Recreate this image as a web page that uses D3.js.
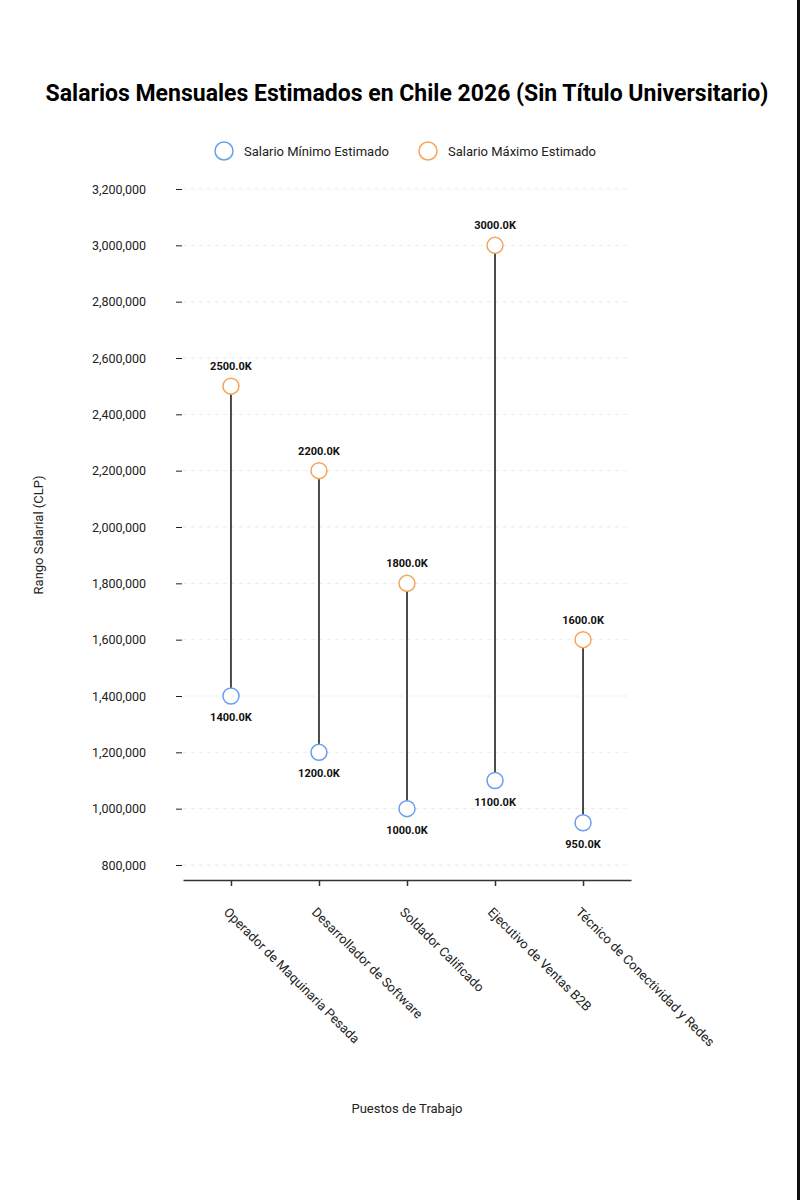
<!DOCTYPE html>
<html>
<head>
<meta charset="utf-8">
<script src="https://cdn.jsdelivr.net/npm/d3@7"></script>
<style>
  body { margin: 0; background: #fff; }
  svg { display: block; font-family: Roboto, "Noto Sans", sans-serif; }
</style>
</head>
<body>
<div id="chart"></div>
<script>
// Chart data
var jobs = [
    "Operador de Maquinaria Pesada",
    "Desarrollador de Software",
    "Soldador Calificado",
    "Ejecutivo de Ventas B2B",
    "Técnico de Conectividad y Redes"
];
var minSalary = [1400000, 1200000, 1000000, 1100000, 950000];
var maxSalary = [2500000, 2200000, 1800000, 3000000, 1600000];
var yTicks = [800000, 1000000, 1200000, 1400000, 1600000, 1800000, 2000000, 2200000, 2400000, 2600000, 2800000, 3000000, 3200000];

// Size of svg
var svgWidth = 800;
var svgHeight = 1200;

var minColor = "#6a9cf0";
var maxColor = "#f5a45a";

var svg = d3.select("#chart")
    .append("svg")
    .attr("width", svgWidth)
    .attr("height", svgHeight);

// Right edge border line
svg.append("rect")
    .attr("x", 797)
    .attr("y", 0)
    .attr("width", 3)
    .attr("height", svgHeight)
    .attr("fill", "#111");

// Scales
var xScale = d3.scalePoint()
    .domain(jobs)
    .range([183, 631])
    .padding(0.545);

var yScale = d3.scaleLinear()
    .domain([800000, 3200000])
    .range([865, 189]);

var axisY = 880;

// Title
svg.append("text")
    .attr("x", 407)
    .attr("y", 101)
    .attr("text-anchor", "middle")
    .attr("font-size", "23px")
    .attr("font-weight", "bold")
    .attr("fill", "#000")
    .text("Salarios Mensuales Estimados en Chile 2026 (Sin Título Universitario)");

// Legend
var legendItems = [
    {label: "Salario Mínimo Estimado", color: minColor, x: 224},
    {label: "Salario Máximo Estimado", color: maxColor, x: 428}
];
legendItems.forEach(item => {
    svg.append("circle")
        .attr("cx", item.x)
        .attr("cy", 151)
        .attr("r", 9)
        .attr("fill", "#fff")
        .attr("stroke", item.color)
        .attr("stroke-width", 1.5);
    svg.append("text")
        .attr("x", item.x + 20)
        .attr("y", 156)
        .attr("font-size", "13px")
        .attr("fill", "#222")
        .text(item.label);
});

// Gridlines
svg.append("g")
    .selectAll("line")
    .data(yTicks)
    .enter()
    .append("line")
    .attr("x1", 183)
    .attr("x2", 631)
    .attr("y1", d => yScale(d))
    .attr("y2", d => yScale(d))
    .attr("stroke", "#ececec")
    .attr("stroke-dasharray", "4,4");

// Y axis (ticks + labels, no domain line)
var leftAxis = d3.axisLeft(yScale)
    .tickValues(yTicks)
    .tickSize(6)
    .tickPadding(30)
    .tickFormat(d3.format(","));

var yAxisG = svg.append("g")
    .attr("transform", "translate(182, 0)")
    .call(leftAxis);
yAxisG.select(".domain").remove();
yAxisG.selectAll("text")
    .attr("font-size", "12.5px")
    .attr("font-family", "Roboto, sans-serif")
    .attr("fill", "#222");
yAxisG.selectAll("line").attr("stroke", "#222");

// X axis
var bottomAxis = d3.axisBottom(xScale)
    .tickSize(6)
    .tickSizeOuter(0)
    .tickFormat("");

var xAxisG = svg.append("g")
    .attr("transform", `translate(0, ${axisY})`)
    .call(bottomAxis);
xAxisG.select(".domain").attr("stroke", "#333").attr("stroke-width", 1.5);
xAxisG.selectAll("line").attr("stroke", "#333").attr("stroke-width", 1.5);

// Rotated x labels
svg.append("g")
    .selectAll("text")
    .data(jobs)
    .enter()
    .append("text")
    .attr("transform", d => `translate(${xScale(d) - 8}, ${axisY + 33}) rotate(45)`)
    .attr("font-size", "13px")
    .attr("fill", "#222")
    .text(d => d);

// Connecting lines
svg.append("g")
    .selectAll("line")
    .data(jobs)
    .enter()
    .append("line")
    .attr("x1", d => xScale(d))
    .attr("x2", d => xScale(d))
    .attr("y1", (d, i) => yScale(minSalary[i]))
    .attr("y2", (d, i) => yScale(maxSalary[i]))
    .attr("stroke", "#111")
    .attr("stroke-width", 1.5);

// Min circles
svg.append("g")
    .selectAll("circle")
    .data(jobs)
    .enter()
    .append("circle")
    .attr("cx", d => xScale(d))
    .attr("cy", (d, i) => yScale(minSalary[i]))
    .attr("r", 8)
    .attr("fill", "#fff")
    .attr("stroke", minColor)
    .attr("stroke-width", 1.5);

// Max circles
svg.append("g")
    .selectAll("circle")
    .data(jobs)
    .enter()
    .append("circle")
    .attr("cx", d => xScale(d))
    .attr("cy", (d, i) => yScale(maxSalary[i]))
    .attr("r", 8)
    .attr("fill", "#fff")
    .attr("stroke", maxColor)
    .attr("stroke-width", 1.5);

// Value labels
var kFormat = v => (v / 1000).toFixed(1) + "K";

svg.append("g")
    .selectAll("text")
    .data(jobs)
    .enter()
    .append("text")
    .attr("x", d => xScale(d))
    .attr("y", (d, i) => yScale(maxSalary[i]) - 16)
    .attr("text-anchor", "middle")
    .attr("font-size", "11px")
    .attr("font-weight", "bold")
    .attr("fill", "#111")
    .text((d, i) => kFormat(maxSalary[i]));

svg.append("g")
    .selectAll("text")
    .data(jobs)
    .enter()
    .append("text")
    .attr("x", d => xScale(d))
    .attr("y", (d, i) => yScale(minSalary[i]) + 25)
    .attr("text-anchor", "middle")
    .attr("font-size", "11px")
    .attr("font-weight", "bold")
    .attr("fill", "#111")
    .text((d, i) => kFormat(minSalary[i]));

// Axis titles
svg.append("text")
    .attr("transform", "translate(43, 535) rotate(-90)")
    .attr("text-anchor", "middle")
    .attr("font-size", "13px")
    .attr("fill", "#222")
    .text("Rango Salarial (CLP)");

svg.append("text")
    .attr("x", 407)
    .attr("y", 1113)
    .attr("text-anchor", "middle")
    .attr("font-size", "13px")
    .attr("fill", "#222")
    .text("Puestos de Trabajo");
</script>
</body>
</html>
